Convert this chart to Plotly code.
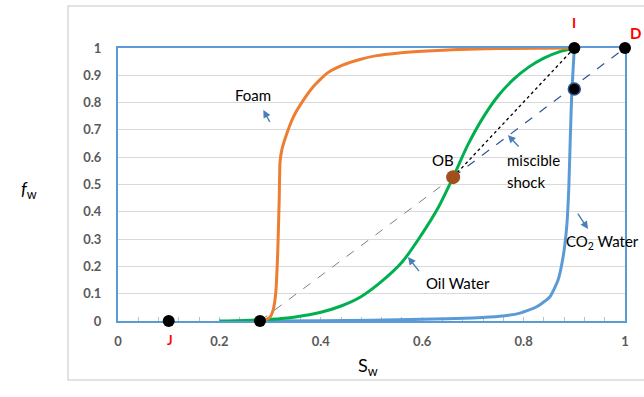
import plotly.graph_objects as go

# Fractional-flow curves f_w(S_w)
foam_sw = [0.28, 0.29, 0.30, 0.306, 0.311, 0.315, 0.318, 0.3195, 0.323, 0.333, 0.346, 0.366,
           0.385, 0.412, 0.444, 0.477, 0.51, 0.55, 0.60, 0.66, 0.75, 0.90]
foam_fw = [0.0, 0.004, 0.015, 0.04, 0.10, 0.25, 0.45, 0.58, 0.626, 0.687, 0.748, 0.81,
           0.858, 0.907, 0.938, 0.958, 0.972, 0.981, 0.988, 0.994, 0.998, 1.0]

oil_sw = [0.20, 0.25, 0.30, 0.35, 0.40, 0.44, 0.48, 0.52, 0.56, 0.60, 0.63, 0.661,
          0.69, 0.72, 0.75, 0.78, 0.81, 0.84, 0.87, 0.90]
oil_fw = [0.0, 0.002, 0.006, 0.015, 0.032, 0.055, 0.09, 0.145, 0.215, 0.32, 0.41, 0.527,
          0.645, 0.745, 0.825, 0.885, 0.93, 0.963, 0.986, 1.0]

co2_sw = [0.28, 0.40, 0.50, 0.60, 0.70, 0.753, 0.793, 0.826, 0.852, 0.868, 0.878, 0.885,
          0.889, 0.892, 0.895, 0.90]
co2_fw = [0.0, 0.001, 0.003, 0.006, 0.011, 0.017, 0.029, 0.052, 0.089, 0.15, 0.236, 0.345,
          0.48, 0.663, 0.834, 1.0]

# Key states
point_J = (0.10, 0.0)
point_start = (0.28, 0.0)
point_OB = (0.661, 0.527)
point_I = (0.90, 1.0)
point_D = (1.0, 1.0)
point_shock = (0.90, 0.85)

xtick_vals = [0, 0.2, 0.4, 0.6, 0.8, 1]
xtick_text = ["0", "0.2", "0.4", "0.6", "0.8", "1"]

ORANGE = "#ED7D31"
GREEN = "#00B050"
BLUE = "#5B9BD5"
ARROW = "#4A7EBB"
TICK_GREY = "#595959"
FONT = "Lato"

fig = go.Figure()


def curve(x, y, color, width=3, smoothing=0.6):
    fig.add_trace(go.Scatter(x=x, y=y, mode="lines",
                             line=dict(color=color, width=width, shape="spline", smoothing=smoothing),
                             cliponaxis=False, hoverinfo="skip"))


def segment(p, q, color, dash, width=1.2):
    fig.add_trace(go.Scatter(x=[p[0], q[0]], y=[p[1], q[1]], mode="lines",
                             line=dict(color=color, width=width, dash=dash),
                             cliponaxis=False, hoverinfo="skip"))


curve(co2_sw, co2_fw, BLUE, smoothing=0.5)
curve(oil_sw, oil_fw, GREEN, smoothing=0.8)
curve(foam_sw, foam_fw, ORANGE, smoothing=0.5)

segment(point_start, point_OB, "#7F7F7F", "dash", 1)
segment(point_OB, point_I, "#000000", "dot", 1.3)
segment(point_OB, point_D, "#2F5597", "dash", 1.2)

black_pts = [point_J, point_start, point_I, point_D]
fig.add_trace(go.Scatter(x=[p[0] for p in black_pts], y=[p[1] for p in black_pts],
                         mode="markers", marker=dict(color="black", size=12),
                         cliponaxis=False, hoverinfo="skip"))
fig.add_trace(go.Scatter(x=[point_shock[0]], y=[point_shock[1]], mode="markers",
                         marker=dict(color="black", size=12, line=dict(color="#2F5597", width=1.5)),
                         cliponaxis=False, hoverinfo="skip"))
fig.add_trace(go.Scatter(x=[point_OB[0]], y=[point_OB[1]], mode="markers",
                         marker=dict(color="#A0501A", size=14),
                         cliponaxis=False, hoverinfo="skip"))


def label(text, x, y, size=15, color="black", bold=False, xanchor="center"):
    # axes span [0, 1], so paper coordinates coincide with data coordinates
    fig.add_annotation(x=x, y=y, xref="paper", yref="paper", text=text, showarrow=False,
                       xanchor=xanchor, yanchor="middle",
                       font=dict(family=FONT, size=size, color=color,
                                 weight="bold" if bold else "normal"))


def arrow(tail, head):
    fig.add_annotation(x=head[0], y=head[1], ax=tail[0], ay=tail[1], xref="x", yref="y",
                       axref="x", ayref="y", text="", showarrow=True, arrowhead=2,
                       arrowsize=1.1, arrowwidth=1.4, arrowcolor=ARROW)


label("Foam", 0.266, 0.828)
arrow((0.301, 0.724), (0.2866, 0.773))
label("miscible", 0.763, 0.59, xanchor="left")
label("shock", 0.763, 0.51, xanchor="left")
arrow((0.793, 0.634), (0.769, 0.681))
label("OB", 0.641, 0.59)
label("Oil Water", 0.671, 0.139)
arrow((0.596, 0.177), (0.572, 0.234))
label("CO<sub>2</sub> Water", 0.955, 0.289)
arrow((0.905, 0.399), (0.927, 0.337))
label("I", point_I[0], 1.092, size=14, color="red", bold=True)
label("D", 1.02, 1.055, size=15, color="red", bold=True)
label("J", point_J[0] + 0.003, -0.07, size=13, color="red", bold=True)

# axis titles
fig.add_annotation(x=-0.195, y=0.48, xref="paper", yref="paper", text="<i>f</i><sub>w</sub>",
                   showarrow=False, font=dict(family=FONT, size=18, color="black"))
fig.add_annotation(x=0.493, y=-0.22, xref="paper", yref="paper", text="S<sub>w</sub>",
                   showarrow=False, font=dict(family=FONT, size=18, color="black"))

# outer chart frame
fig.add_shape(type="rect", xref="paper", yref="paper", x0=-0.0986, x1=1.2, y0=-0.216, y1=1.154,
              line=dict(color="#D9D9D9", width=1.5), fillcolor="rgba(0,0,0,0)", layer="below")

fig.update_layout(
    width=644, height=397,
    margin=dict(l=118, r=19, t=48, b=76),
    paper_bgcolor="white", plot_bgcolor="white",
    showlegend=False,
    xaxis=dict(range=[0, 1], tickvals=xtick_vals, ticktext=xtick_text, showgrid=False,
               zeroline=False, showline=True, mirror=True, linecolor=BLUE, linewidth=1.5,
               ticks="inside", ticklen=4, tickcolor="#BFBFBF",
               minor=dict(tick0=0, dtick=0.04, ticks="inside", ticklen=4, tickcolor="#BFBFBF"),
               tickfont=dict(family=FONT, size=13, color=TICK_GREY, weight="bold"),
               ticklabelstandoff=8, layer="below traces"),
    yaxis=dict(range=[0, 1], dtick=0.1, showgrid=True, gridcolor="#D9D9D9", gridwidth=1,
               zeroline=False, showline=True, mirror=True, linecolor=BLUE, linewidth=2,
               ticks="", tickfont=dict(family=FONT, size=13, color=TICK_GREY, weight="bold"),
               ticklabelstandoff=12, layer="below traces"),
)

fig.write_html("out.html")
